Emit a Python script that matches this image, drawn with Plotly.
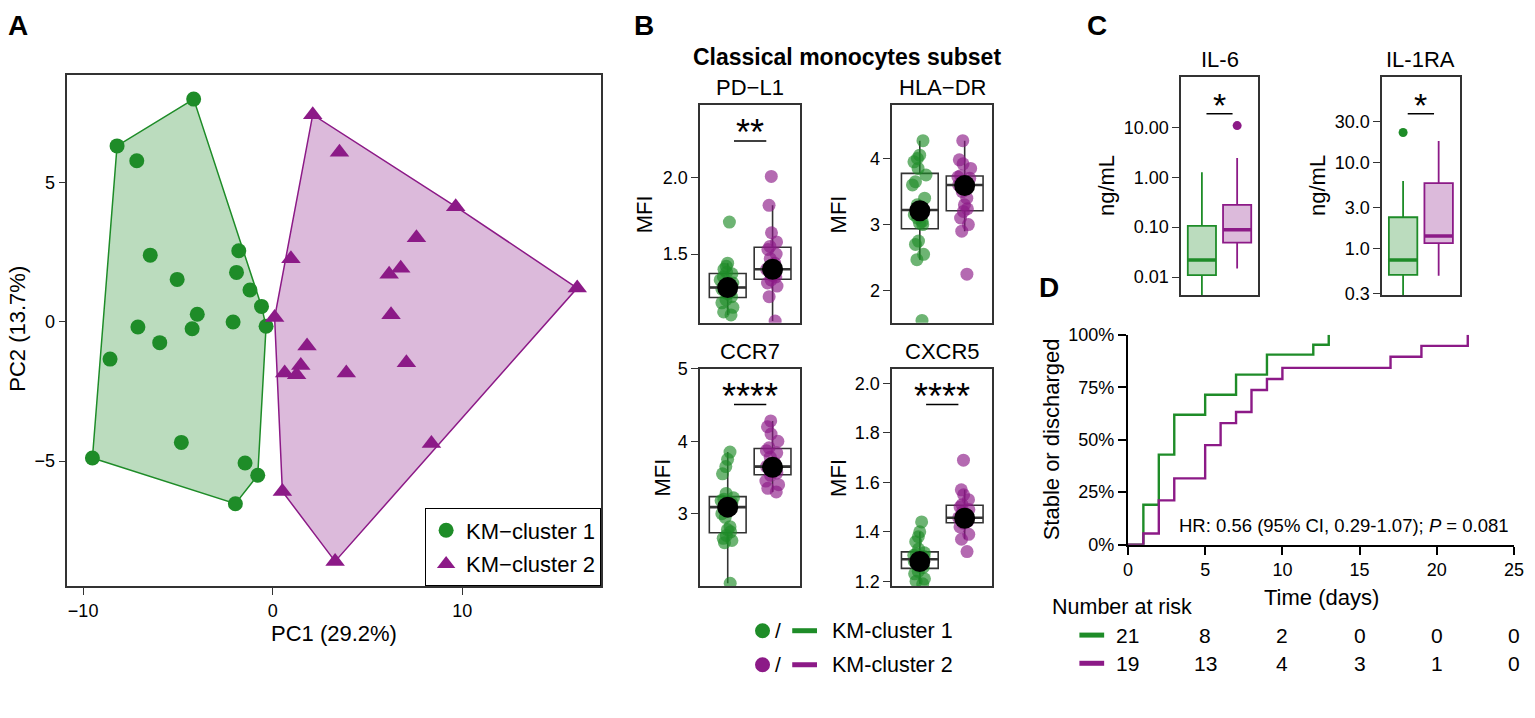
import numpy as np
import plotly.graph_objects as go

W, H = 1535, 718
FONT = "Liberation Sans, Arial, Helvetica, sans-serif"
GREEN = "#1E8C28"
PURPLE = "#8C1A87"
GREEN_FILL = "rgba(30,140,40,0.30)"
PURPLE_FILL = "rgba(140,26,135,0.30)"
GREEN_PT = "rgba(30,140,40,0.65)"
PURPLE_PT = "rgba(140,26,135,0.65)"
AX = "#333333"

# ---------------- data ----------------
cluster_names = ["KM\u2212cluster 1", "KM\u2212cluster 2"]
legend_b_names = ["KM-cluster 1", "KM-cluster 2"]

# Panel A : PCA
pc1_c1 = [-4.17, -8.21, -7.17, -6.46, -5.04, -1.79, -1.91, -1.20, -0.59, -3.98, -7.11,
          -4.25, -2.09, -0.35, -5.96, -8.58, -4.82, -9.51, -1.46, -0.79, -1.97]
pc2_c1 = [7.99, 6.31, 5.78, 2.39, 1.52, 2.55, 1.77, 1.14, 0.55, 0.27, -0.19,
          -0.25, -0.01, -0.16, -0.75, -1.34, -4.33, -4.89, -5.07, -5.51, -6.53]
pc1_c2 = [2.11, 3.52, 9.65, 16.06, 7.58, 0.96, 6.14, 6.75, 0.10, 6.24, 1.81,
          1.48, 0.63, 1.26, 3.88, 7.05, 8.37, 0.51, 3.29]
pc2_c2 = [7.43, 6.08, 4.13, 1.21, 3.01, 2.26, 1.70, 1.92, 0.15, 0.25, -0.87,
          -1.57, -1.84, -1.90, -1.84, -1.47, -4.37, -6.09, -8.60]

# Panel B : classical monocytes MFI
b_titles = ["PD\u2212L1", "HLA\u2212DR", "CCR7", "CXCR5"]
pdl1_c1 = [1.10, 1.12, 1.15, 1.18, 1.20, 1.22, 1.24, 1.25, 1.26, 1.27, 1.28,
           1.30, 1.31, 1.33, 1.35, 1.37, 1.38, 1.40, 1.42, 1.44, 1.71]
pdl1_c2 = [1.06, 1.22, 1.29, 1.31, 1.33, 1.35, 1.36, 1.37, 1.38, 1.40, 1.44,
           1.47, 1.50, 1.53, 1.55, 1.58, 1.64, 1.82, 2.01]
hla_c1 = [1.55, 2.47, 2.55, 2.70, 2.75, 3.00, 3.02, 3.05, 3.10, 3.15, 3.22,
          3.30, 3.40, 3.60, 3.65, 3.75, 3.85, 3.95, 4.00, 4.05, 4.27]
hla_c2 = [2.25, 2.90, 3.00, 3.10, 3.20, 3.24, 3.30, 3.40, 3.50, 3.60, 3.62,
          3.65, 3.70, 3.72, 3.74, 3.85, 3.92, 3.98, 4.27]
ccr7_c1 = [2.04, 2.60, 2.63, 2.66, 2.70, 2.75, 2.78, 2.82, 2.95, 3.00, 3.09,
           3.12, 3.15, 3.18, 3.20, 3.22, 3.28, 3.55, 3.65, 3.75, 3.85]
ccr7_c2 = [3.30, 3.35, 3.40, 3.45, 3.53, 3.56, 3.58, 3.60, 3.63, 3.65, 3.70,
           3.78, 3.84, 3.87, 3.91, 4.00, 4.10, 4.20, 4.28]
cxcr5_c1 = [1.19, 1.20, 1.21, 1.23, 1.24, 1.256, 1.26, 1.27, 1.275, 1.28, 1.289,
            1.29, 1.30, 1.305, 1.31, 1.315, 1.33, 1.36, 1.38, 1.40, 1.44]
cxcr5_c2 = [1.32, 1.37, 1.39, 1.42, 1.435, 1.443, 1.445, 1.45, 1.453, 1.457, 1.47,
            1.48, 1.49, 1.50, 1.51, 1.53, 1.55, 1.57, 1.69]
pdl1_mean = [1.28, 1.40]
hla_mean = [3.21, 3.59]
ccr7_mean = [3.09, 3.64]
cxcr5_mean = [1.28, 1.455]
b_sig = ["**", None, "****", "****"]

# Panel C : cytokines (ng/mL), box statistics per cluster
c_titles = ["IL-6", "IL-1RA"]
il6_q1 = [0.0109, 0.049]
il6_med = [0.0218, 0.089]
il6_q3 = [0.106, 0.28]
il6_lo = [0.003, 0.0148]
il6_hi = [1.25, 2.43]
il6_out_group = [2]
il6_out_val = [10.8]
il1ra_q1 = [0.49, 1.15]
il1ra_med = [0.73, 1.40]
il1ra_q3 = [2.31, 5.78]
il1ra_lo = [0.20, 0.48]
il1ra_hi = [6.1, 17.9]
il1ra_out_group = [1]
il1ra_out_val = [22.5]
c_sig = ["*", "*"]

# Panel D : Kaplan-Meier (cumulative stable or discharged)
km_t_c1 = [0, 1, 2, 3, 5, 7, 9, 12, 13]
km_y_c1 = [0, 0.190, 0.429, 0.619, 0.714, 0.810, 0.905, 0.952, 1.0]
km_t_c2 = [0, 1, 2, 3, 5, 6, 7, 8, 9, 10, 17, 19, 22]
km_y_c2 = [0, 0.053, 0.211, 0.316, 0.474, 0.579, 0.632, 0.737, 0.789, 0.842, 0.895, 0.947, 1.0]
risk_times = [0, 5, 10, 15, 20, 25]
risk_c1 = [21, 8, 2, 0, 0, 0]
risk_c2 = [19, 13, 4, 3, 1, 0]
hr_text = "HR: 0.56 (95% CI, 0.29-1.07); <i>P</i> = 0.081"


# ---------------- helpers ----------------
def hull(xs, ys):
    pts = sorted(set(zip(xs, ys)))

    def cross(o, a, b):
        return (a[0] - o[0]) * (b[1] - o[1]) - (a[1] - o[1]) * (b[0] - o[0])

    lower, upper = [], []
    for p in pts:
        while len(lower) >= 2 and cross(lower[-2], lower[-1], p) <= 0:
            lower.pop()
        lower.append(p)
    for p in reversed(pts):
        while len(upper) >= 2 and cross(upper[-2], upper[-1], p) <= 0:
            upper.pop()
        upper.append(p)
    h = lower[:-1] + upper[:-1]
    h.append(h[0])
    return [p[0] for p in h], [p[1] for p in h]


def ax(dom_px, horizontal, rng, anchor, **kw):
    if horizontal:
        dom = [dom_px[0] / W, dom_px[1] / W]
    else:
        dom = [1 - dom_px[1] / H, 1 - dom_px[0] / H]
    d = dict(domain=dom, range=rng, anchor=anchor, showline=True, mirror=True,
             linecolor=AX, linewidth=1.5, ticks="outside", ticklen=7, tickwidth=1.3,
             tickcolor=AX, showgrid=False, zeroline=False,
             tickfont=dict(size=18, color="black", family=FONT), fixedrange=True)
    d.update(kw)
    return d


def txt(x, y, s, size=21, angle=0, xanchor="center", yanchor="middle", color="black"):
    return dict(x=x / W, y=1 - y / H, xref="paper", yref="paper", text=s, showarrow=False,
                font=dict(size=size, color=color, family=FONT), textangle=angle,
                xanchor=xanchor, yanchor=yanchor)


fig = go.Figure()

# ---------------- Panel A ----------------
for xs, ys, col, fill in [(pc1_c1, pc2_c1, GREEN, GREEN_FILL), (pc1_c2, pc2_c2, PURPLE, PURPLE_FILL)]:
    hx, hy = hull(xs, ys)
    fig.add_trace(go.Scatter(x=hx, y=hy, mode="lines", fill="toself", fillcolor=fill,
                             line=dict(color=col, width=1.5), showlegend=False,
                             hoverinfo="skip", xaxis="x", yaxis="y"))
fig.add_trace(go.Scatter(x=pc1_c1, y=pc2_c1, mode="markers", name=cluster_names[0],
                         legendgroup="g1",
                         marker=dict(color=GREEN, size=15, symbol="circle"),
                         xaxis="x", yaxis="y"))
fig.add_trace(go.Scatter(x=pc1_c2, y=pc2_c2, mode="markers", name=cluster_names[1],
                         legendgroup="g2",
                         marker=dict(color=PURPLE, size=17, symbol="triangle-up"),
                         xaxis="x", yaxis="y"))

# ---------------- Panel B ----------------
b_data = [(pdl1_c1, pdl1_c2, pdl1_mean), (hla_c1, hla_c2, hla_mean),
          (ccr7_c1, ccr7_c2, ccr7_mean), (cxcr5_c1, cxcr5_c2, cxcr5_mean)]
for i, (g1, g2, mn) in enumerate(b_data):
    xa, ya = "x%d" % (i + 2), "y%d" % (i + 2)
    for pos, vals, colpt in [(1, g1, GREEN_PT), (2, g2, PURPLE_PT)]:
        fig.add_trace(go.Box(y=vals, x0=pos, width=0.82, boxpoints="all", jitter=0.45,
                             pointpos=0, marker=dict(color=colpt, size=13, line=dict(width=0)),
                             line=dict(color=AX, width=1.6), fillcolor="rgba(0,0,0,0)",
                             whiskerwidth=0, xaxis=xa, yaxis=ya, showlegend=False,
                             hoverinfo="skip"))
        med = float(np.percentile(vals, 50))
        fig.add_trace(go.Scatter(x=[pos - 0.41, pos + 0.41], y=[med, med], mode="lines",
                                 line=dict(color=AX, width=2.6), xaxis=xa, yaxis=ya,
                                 showlegend=False, hoverinfo="skip"))
    fig.add_trace(go.Scatter(x=[1, 2], y=mn, mode="markers",
                             marker=dict(color="black", size=21), xaxis=xa, yaxis=ya,
                             showlegend=False, hoverinfo="skip"))

# ---------------- Panel C ----------------
c_data = [(il6_q1, il6_med, il6_q3, il6_lo, il6_hi, il6_out_group, il6_out_val),
          (il1ra_q1, il1ra_med, il1ra_q3, il1ra_lo, il1ra_hi, il1ra_out_group, il1ra_out_val)]
for i, (q1, md, q3, lo, hi, og, ov) in enumerate(c_data):
    xa, ya = "x%d" % (i + 6), "y%d" % (i + 6)
    for k, (col, fill) in enumerate([(GREEN, GREEN_FILL), (PURPLE, PURPLE_FILL)]):
        pos = k + 1
        fig.add_trace(go.Box(x=[pos], q1=[q1[k]], median=[md[k]], q3=[q3[k]],
                             lowerfence=[lo[k]], upperfence=[hi[k]], width=0.8,
                             boxpoints=False, line=dict(color=col, width=1.8),
                             fillcolor=fill, whiskerwidth=0, xaxis=xa, yaxis=ya,
                             showlegend=False, hoverinfo="skip"))
        fig.add_trace(go.Scatter(x=[pos - 0.4, pos + 0.4], y=[md[k], md[k]], mode="lines",
                                 line=dict(color=col, width=3.5), xaxis=xa, yaxis=ya,
                                 showlegend=False, hoverinfo="skip"))
    fig.add_trace(go.Scatter(x=og, y=ov, mode="markers",
                             marker=dict(color=[GREEN if g == 1 else PURPLE for g in og], size=9),
                             xaxis=xa, yaxis=ya, showlegend=False, hoverinfo="skip"))

# ---------------- Panel D ----------------
for t, y, col in [(km_t_c1, km_y_c1, GREEN), (km_t_c2, km_y_c2, PURPLE)]:
    fig.add_trace(go.Scatter(x=t, y=y, mode="lines", line=dict(color=col, width=2.4, shape="hv"),
                             xaxis="x8", yaxis="y8", showlegend=False, hoverinfo="skip"))

# ---------------- layout ----------------
BX = [(702, 803), (896, 997), (702, 803), (896, 997)]
BY = [(97.7, 321.7), (97.7, 321.7), (369, 592.7), (369, 592.7)]
b_ranges = [[1.049, 2.479], [1.515, 4.81], [1.999, 5.001], [1.18, 2.06]]
b_ticks = [dict(tickvals=[1.5, 2.0], ticktext=["1.5", "2.0"]),
           dict(tickvals=[2, 3, 4]),
           dict(tickvals=[3, 4, 5]),
           dict(tickvals=[1.2, 1.4, 1.6, 1.8, 2.0], ticktext=["1.2", "1.4", "1.6", "1.8", "2.0"])]

layout = dict(width=W, height=H, autosize=False, margin=dict(l=0, r=0, t=0, b=0),
              paper_bgcolor="white", plot_bgcolor="white",
              font=dict(family=FONT, size=18, color="black"),
              boxmode="overlay", hovermode=False,
              legend=dict(x=602 / W, xanchor="right", y=1 - 593 / H, yanchor="bottom",
                          bordercolor="black", borderwidth=1, bgcolor="white",
                          font=dict(size=22, family=FONT), tracegroupgap=2))

layout["xaxis"] = ax((63, 602), True, [-10.83, 17.32], "y", tickvals=[-10, 0, 10])
layout["yaxis"] = ax((67, 593), False, [-9.5, 8.85], "x", tickvals=[-5, 0, 5])
for i in range(4):
    n = i + 2
    layout["xaxis%d" % n] = ax(BX[i], True, [0.385, 2.615], "y%d" % n,
                               showticklabels=False, ticks="")
    layout["yaxis%d" % n] = ax(BY[i], False, b_ranges[i], "x%d" % n, **b_ticks[i])

CX = [(1187.7, 1265.3), (1390.7, 1469)]
CY = (69.3, 293.3)
layout["xaxis6"] = ax(CX[0], True, [0.41, 2.59], "y6", showticklabels=False, ticks="")
layout["yaxis6"] = ax(CY, False, [-2.363, 2.0], "x6", type="log",
                      tickvals=[0.01, 0.1, 1, 10], ticktext=["0.01", "0.10", "1.00", "10.00"])
layout["xaxis7"] = ax(CX[1], True, [0.41, 2.59], "y7", showticklabels=False, ticks="")
layout["yaxis7"] = ax(CY, False, [-0.545, 1.995], "x7", type="log",
                      tickvals=[0.3, 1, 3, 10, 30], ticktext=["0.3", "1.0", "3.0", "10.0", "30.0"])

layout["xaxis8"] = ax((1134, 1524), True, [0, 25], "y8", mirror=False, linecolor="black",
                      linewidth=2, tickcolor="black", tickwidth=1.6, ticklen=8,
                      tickvals=risk_times, layer="below traces")
layout["yaxis8"] = ax((334, 550), False, [0, 1], "x8", mirror=False, linecolor="black",
                      linewidth=2, tickcolor="black", tickwidth=1.6, ticklen=8,
                      tickvals=[0, 0.25, 0.5, 0.75, 1.0],
                      ticktext=["0%", "25%", "50%", "75%", "100%"], layer="below traces")

shapes = []
ann = []

# panel labels
for lab, x, y in [("A", 13, 16), ("B", 645, 16), ("C", 1103, 16), ("D", 1054, 285)]:
    ann.append(txt(x, y, "<b>%s</b>" % lab, size=28))

# Panel A titles
ann.append(txt(332, 641, "PC1 (29.2%)", size=22))
ann.append(txt(13, 328, "PC2 (13.7%)", size=22, angle=-90))

# Panel B titles
ann.append(txt(850, 48, "<b>Classical monocytes subset</b>", size=23))
for i in range(4):
    cx = (BX[i][0] + BX[i][1]) / 2
    ann.append(txt(cx, BY[i][0] - 18, b_titles[i], size=22))
for x, y in [(645.5, 210), (841.5, 210), (664.5, 481), (841.5, 481)]:
    ann.append(txt(x, y, "MFI", size=22, angle=-90))
for i, s in enumerate(b_sig):
    if s:
        n = i + 2
        shapes.append(dict(type="line", xref="x%d" % n, yref="y%d domain" % n,
                           x0=1.14, x1=1.86, y0=0.835, y1=0.835,
                           line=dict(color="black", width=1.5)))
        ann.append(dict(x=1.5, y=0.872, xref="x%d" % n, yref="y%d domain" % n, text=s,
                        showarrow=False, font=dict(size=36, family=FONT, color="black"),
                        xanchor="center", yanchor="middle"))

# Panel B legend
for k, (col, yy) in enumerate([(GREEN, 638.5), (PURPLE, 673.5)]):
    shapes.append(dict(type="circle", xref="paper", yref="paper", xsizemode="pixel",
                       ysizemode="pixel", xanchor=765 / W, yanchor=1 - yy / H,
                       x0=-7.5, x1=7.5, y0=-7.5, y1=7.5, fillcolor=col, line=dict(width=0)))
    ann.append(txt(781, yy, "/", size=21))
    shapes.append(dict(type="line", xref="paper", yref="paper", x0=795 / W, x1=820 / W,
                       y0=1 - yy / H, y1=1 - yy / H, line=dict(color=col, width=5)))
    ann.append(txt(833, yy, legend_b_names[k], size=21.5, xanchor="left"))

# Panel C titles
for i in range(2):
    cx = (CX[i][0] + CX[i][1]) / 2
    ann.append(txt(cx, 51, c_titles[i], size=22))
    n = i + 6
    shapes.append(dict(type="line", xref="x%d" % n, yref="y%d domain" % n,
                       x0=1.13, x1=1.87, y0=0.833, y1=0.833,
                       line=dict(color="black", width=1.5)))
    ann.append(dict(x=1.5, y=0.872, xref="x%d" % n, yref="y%d domain" % n, text=c_sig[i],
                    showarrow=False, font=dict(size=34, family=FONT, color="black"),
                    xanchor="center", yanchor="middle"))
ann.append(txt(1113, 181, "ng/mL", size=22, angle=-90))
ann.append(txt(1326, 181, "ng/mL", size=22, angle=-90))

# Panel D texts
ann.append(txt(1057, 442, "Stable or discharged", size=22, angle=-90))
ann.append(txt(1329, 604, "Time (days)", size=22))
ann.append(txt(1184, 530, hr_text, size=18.5, xanchor="left"))
ann.append(txt(1055, 614, "Number at risk", size=21.5, xanchor="left"))
for vals, col, yy in [(risk_c1, GREEN, 643), (risk_c2, PURPLE, 672)]:
    shapes.append(dict(type="line", xref="paper", yref="paper", x0=1085 / W, x1=1110 / W,
                       y0=1 - yy / H, y1=1 - yy / H, line=dict(color=col, width=5)))
    for t, v in zip(risk_times, vals):
        ann.append(dict(x=t, y=1 - yy / H, xref="x8", yref="paper", text=str(v),
                        showarrow=False, font=dict(size=21, family=FONT, color="black"),
                        xanchor="center", yanchor="middle"))

layout["shapes"] = shapes
layout["annotations"] = ann
fig.update_layout(**layout)

fig.write_html("out.html", config={"displayModeBar": False},
               post_script="document.body.style.margin='0';document.body.style.overflow='hidden';")
